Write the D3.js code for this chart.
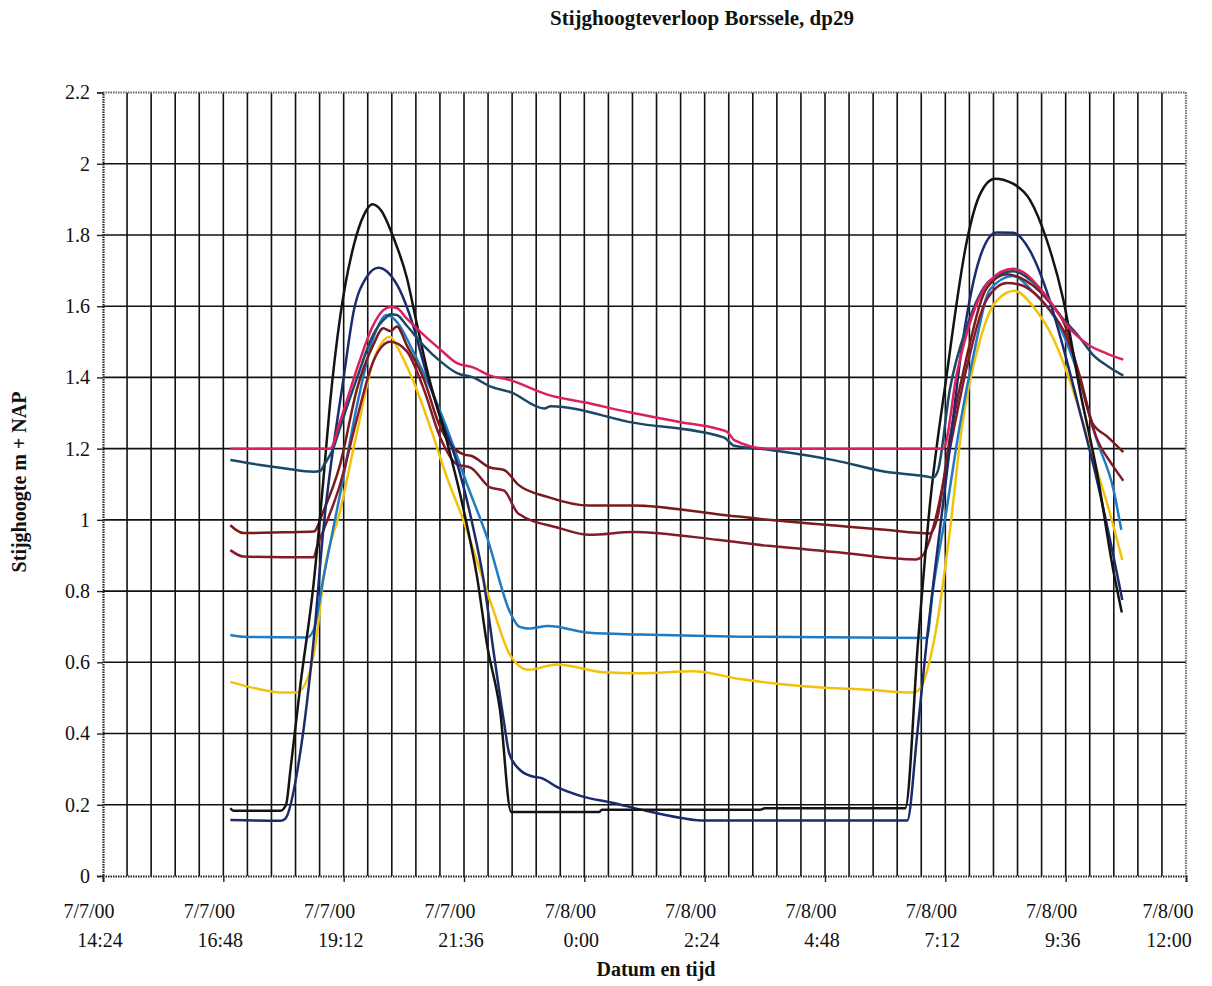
<!DOCTYPE html>
<html>
<head>
<meta charset="utf-8">
<script src="https://cdn.jsdelivr.net/npm/d3@7"></script>
<style>
  html, body { margin: 0; padding: 0; background: #ffffff; }
  svg { display: block; }
  text { font-family: "Liberation Serif", "Times New Roman", serif; fill: #111; }
</style>
</head>
<body>
<script>
// ---------- DATA (hours since 7/7/00 00:00, stijghoogte m + NAP) ----------
const yTicks = [0, 0.2, 0.4, 0.6, 0.8, 1, 1.2, 1.4, 1.6, 1.8, 2, 2.2];
const yTickLabels = ["0", "0.2", "0.4", "0.6", "0.8", "1", "1.2", "1.4", "1.6", "1.8", "2", "2.2"];
const xTickDates = ["7/7/00", "7/7/00", "7/7/00", "7/7/00", "7/8/00", "7/8/00", "7/8/00", "7/8/00", "7/8/00", "7/8/00"];
const xTickTimes = ["14:24", "16:48", "19:12", "21:36", "0:00", "2:24", "4:48", "7:12", "9:36", "12:00"];
const xTickHours = [14.4, 16.8, 19.2, 21.6, 24, 26.4, 28.8, 31.2, 33.6, 36];

const seriesPink = [[16.94,1.20],[18.93,1.20],[19.13,1.277],[19.47,1.426],[19.79,1.547],[19.99,1.589],[20.13,1.598],[20.26,1.595],[20.46,1.565],[20.79,1.52],[21.13,1.478],[21.46,1.44],[21.78,1.428],[22.12,1.405],[22.48,1.394],[23.28,1.351],[24.0,1.33],[24.97,1.30],[25.9,1.275],[26.65,1.256],[26.85,1.247],[26.99,1.224],[27.67,1.20],[31.16,1.20],[31.43,1.411],[31.75,1.578],[32.09,1.672],[32.55,1.705],[32.75,1.696],[33.22,1.627],[33.63,1.545],[34.03,1.494],[34.42,1.467],[34.75,1.45]];
const seriesTeal = [[16.94,1.168],[17.5,1.155],[18.0,1.145],[18.6,1.135],[18.74,1.138],[18.8,1.152],[18.99,1.20],[19.13,1.26],[19.47,1.40],[19.79,1.52],[20.06,1.57],[20.13,1.577],[20.26,1.575],[20.46,1.545],[20.79,1.49],[21.13,1.445],[21.46,1.412],[21.78,1.40],[22.12,1.375],[22.54,1.358],[23.2,1.313],[23.33,1.319],[24.97,1.273],[26.79,1.231],[26.99,1.208],[27.67,1.197],[29.0,1.167],[30.0,1.135],[30.89,1.12],[30.95,1.118],[31.05,1.137],[31.29,1.366],[31.63,1.543],[32.09,1.672],[32.55,1.698],[33.03,1.657],[33.49,1.574],[33.89,1.51],[34.14,1.464],[34.48,1.428],[34.75,1.405]];
const seriesMaroonUpper = [[16.94,0.985],[17.2,0.963],[18.0,0.965],[18.6,0.967],[18.8,1.026],[19.13,1.156],[19.47,1.37],[19.79,1.491],[19.99,1.538],[20.13,1.53],[20.26,1.543],[20.46,1.49],[20.79,1.398],[21.13,1.259],[21.33,1.212],[21.59,1.184],[21.74,1.18],[22.12,1.147],[22.4,1.14],[22.68,1.099],[23.28,1.064],[24.1,1.04],[24.97,1.04],[26.65,1.016],[27.67,1.0],[29.0,0.984],[30.0,0.972],[30.89,0.962],[31.03,1.0],[31.29,1.23],[31.63,1.46],[32.03,1.652],[32.43,1.69],[32.69,1.68],[33.22,1.62],[33.63,1.53],[33.89,1.39],[34.14,1.27],[34.42,1.235],[34.75,1.19]];
const seriesMaroonLower = [[16.94,0.915],[17.2,0.897],[18.0,0.895],[18.6,0.895],[18.67,0.925],[18.8,0.972],[19.13,1.10],[19.47,1.287],[19.79,1.445],[20.13,1.50],[20.46,1.473],[20.79,1.37],[21.13,1.23],[21.46,1.156],[21.74,1.146],[22.12,1.091],[22.4,1.082],[22.68,1.018],[23.48,0.978],[24.1,0.958],[24.97,0.966],[26.65,0.944],[27.67,0.927],[29.0,0.91],[30.62,0.889],[30.75,0.90],[31.0,1.0],[31.29,1.2],[31.63,1.43],[32.03,1.62],[32.43,1.665],[32.69,1.66],[33.22,1.60],[33.63,1.51],[33.89,1.40],[34.14,1.26],[34.55,1.15],[34.75,1.11]];
const seriesBlue = [[16.94,0.677],[17.2,0.672],[18.47,0.670],[18.6,0.69],[18.8,0.84],[19.13,1.073],[19.47,1.324],[19.79,1.51],[20.06,1.575],[20.26,1.556],[20.59,1.472],[20.99,1.351],[21.33,1.23],[21.66,1.10],[22.06,0.951],[22.52,0.74],[22.7,0.70],[22.88,0.695],[23.28,0.702],[24.1,0.683],[25.11,0.678],[27.11,0.672],[30.83,0.668],[30.95,0.80],[31.23,1.034],[31.49,1.266],[31.76,1.461],[32.09,1.647],[32.55,1.685],[32.95,1.64],[33.49,1.54],[33.89,1.39],[34.22,1.225],[34.55,1.087],[34.71,0.972]];
const seriesYellow = [[16.94,0.545],[17.5,0.525],[18.0,0.515],[18.26,0.515],[18.47,0.55],[18.67,0.682],[18.8,0.84],[19.13,1.026],[19.47,1.249],[19.79,1.445],[20.13,1.514],[20.26,1.487],[20.59,1.389],[20.93,1.259],[21.26,1.119],[21.59,0.998],[21.92,0.858],[22.2,0.74],[22.52,0.62],[22.88,0.579],[23.45,0.594],[24.4,0.572],[25.11,0.569],[26.17,0.575],[27.11,0.553],[28.44,0.532],[29.76,0.522],[30.56,0.515],[30.69,0.525],[31.0,0.68],[31.3,0.98],[31.52,1.25],[31.89,1.504],[32.22,1.615],[32.59,1.643],[32.95,1.599],[33.35,1.51],[33.75,1.363],[34.14,1.178],[34.48,1.02],[34.73,0.887]];
const seriesBlack = [[16.94,0.19],[17.0,0.183],[17.94,0.183],[18.05,0.20],[18.14,0.30],[18.34,0.54],[18.6,0.82],[18.8,1.12],[18.93,1.33],[19.13,1.57],[19.4,1.77],[19.6,1.855],[19.77,1.886],[19.95,1.868],[20.2,1.79],[20.46,1.68],[20.66,1.55],[20.9,1.40],[21.26,1.22],[21.59,1.03],[21.86,0.84],[22.06,0.649],[22.32,0.464],[22.54,0.18],[24.3,0.18],[24.35,0.186],[27.5,0.186],[27.6,0.19],[30.4,0.19],[30.66,0.666],[30.89,1.039],[31.23,1.41],[31.63,1.784],[31.89,1.914],[32.19,1.958],[32.55,1.944],[32.89,1.898],[33.22,1.787],[33.55,1.62],[33.89,1.36],[34.22,1.137],[34.55,0.858],[34.72,0.74]];
const seriesNavy = [[16.94,0.157],[17.94,0.155],[18.03,0.16],[18.34,0.352],[18.6,0.66],[18.8,0.98],[19.2,1.40],[19.4,1.586],[19.65,1.68],[19.89,1.708],[20.26,1.661],[20.6,1.539],[20.8,1.436],[21.13,1.29],[21.46,1.16],[21.78,0.98],[21.98,0.84],[22.2,0.62],[22.4,0.43],[22.5,0.345],[22.7,0.30],[22.95,0.28],[23.15,0.275],[23.45,0.25],[23.92,0.225],[24.58,0.205],[25.11,0.187],[25.97,0.162],[26.31,0.156],[30.44,0.156],[30.64,0.40],[30.83,0.66],[31.23,1.132],[31.55,1.504],[31.89,1.737],[32.22,1.807],[32.55,1.806],[32.89,1.755],[33.22,1.643],[33.55,1.485],[33.89,1.30],[34.22,1.114],[34.55,0.90],[34.73,0.775]];

// ---------- CHART ----------
const W = 1212, H = 986;
const base = new Date(2000, 6, 7, 0, 0, 0).getTime();
const toDate = h => new Date(base + h * 3600e3);

const svg = d3.select("body").append("svg").attr("width", W).attr("height", H);
svg.append("rect").attr("width", W).attr("height", H).attr("fill", "#fff");

const x = d3.scaleTime().domain([toDate(14.4), toDate(36)]).range([103, 1186]);
const y = d3.scaleLinear().domain([0, 2.2]).range([876, 92.5]);

const grid = svg.append("g");
// vertical gridlines every 28.8 minutes
const vGrid = d3.range(1, 45).map(i => toDate(14.4 + i * 0.48));
grid.selectAll("line.v").data(vGrid).join("line")
  .attr("x1", d => x(d)).attr("x2", d => x(d))
  .attr("y1", y(2.2)).attr("y2", y(0))
  .attr("stroke", "#111").attr("stroke-width", 1.6);
grid.selectAll("line.h").data(yTicks.filter(v => v > 0 && v < 2.2)).join("line")
  .attr("x1", x.range()[0]).attr("x2", x.range()[1])
  .attr("y1", d => y(d)).attr("y2", d => y(d))
  .attr("stroke", "#111").attr("stroke-width", 1.6);

// frame: top/right grey dotted border
svg.append("line").attr("x1", 103).attr("x2", 1186).attr("y1", y(2.2)).attr("y2", y(2.2))
  .attr("stroke", "#666").attr("stroke-width", 2.2).attr("stroke-dasharray", "1.5,1");
svg.append("line").attr("x1", 1186).attr("x2", 1186).attr("y1", y(2.2)).attr("y2", y(0))
  .attr("stroke", "#777").attr("stroke-width", 2.2).attr("stroke-dasharray", "1.5,1");

// series lines
const line = d3.line().x(d => x(toDate(d[0]))).y(d => y(d[1])).curve(d3.curveMonotoneX);
const series = [
  { data: seriesYellow, color: "#f2c20a" },
  { data: seriesBlue, color: "#1f7cc4" },
  { data: seriesMaroonLower, color: "#821c2c" },
  { data: seriesMaroonUpper, color: "#7a1b1b" },
  { data: seriesNavy, color: "#1b2b6b" },
  { data: seriesBlack, color: "#141414" },
  { data: seriesTeal, color: "#1d4767" },
  { data: seriesPink, color: "#dc1f5f" }
];
svg.append("g").selectAll("path").data(series).join("path")
  .attr("d", d => line(d.data))
  .attr("fill", "none")
  .attr("stroke", d => d.color)
  .attr("stroke-width", 2.5)
  .attr("stroke-linejoin", "round");

// axes
const yAxis = svg.append("g").attr("transform", "translate(103,0)")
  .call(d3.axisLeft(y).tickValues(yTicks).tickSize(6).tickPadding(7)
    .tickFormat((d, i) => yTickLabels[i]));
yAxis.select(".domain").attr("stroke", "#222").attr("stroke-width", 2.2).attr("stroke-dasharray", "1.5,1");
yAxis.selectAll(".tick line").attr("stroke", "#222").attr("stroke-width", 1.4);
yAxis.selectAll(".tick text").style("font-family", "Liberation Serif, serif").style("font-size", "20px").attr("fill", "#111");

const xAxis = svg.append("g").attr("transform", `translate(0,${y(0)})`)
  .call(d3.axisBottom(x).tickValues(xTickHours.map(toDate)).tickSize(6).tickFormat(""));
xAxis.select(".domain").attr("stroke", "#222").attr("stroke-width", 2.2).attr("stroke-dasharray", "1.5,1");
xAxis.selectAll(".tick line").attr("stroke", "#222").attr("stroke-width", 1.4);

// two-line x tick labels
const xl = svg.append("g");
xTickHours.forEach((h, i) => {
  const last = i === xTickHours.length - 1;
  const px = x(toDate(h));
  xl.append("text").attr("x", px - (last ? 18 : 14)).attr("y", 918)
    .attr("text-anchor", "middle").style("font-size", "20px").text(xTickDates[i]);
  xl.append("text").attr("x", px - (last ? 17 : 3)).attr("y", 947)
    .attr("text-anchor", "middle").style("font-size", "20px").text(xTickTimes[i]);
});

// titles
svg.append("text").attr("x", 702).attr("y", 25).attr("text-anchor", "middle")
  .style("font-size", "21px").style("font-weight", "bold").text("Stijghoogteverloop Borssele, dp29");
svg.append("text").attr("x", 656).attr("y", 976).attr("text-anchor", "middle")
  .style("font-size", "20px").style("font-weight", "bold").text("Datum en tijd");
svg.append("text").attr("transform", "translate(26,482) rotate(-90)").attr("text-anchor", "middle")
  .style("font-size", "20px").style("font-weight", "bold").text("Stijghoogte m + NAP");
</script>
</body>
</html>
